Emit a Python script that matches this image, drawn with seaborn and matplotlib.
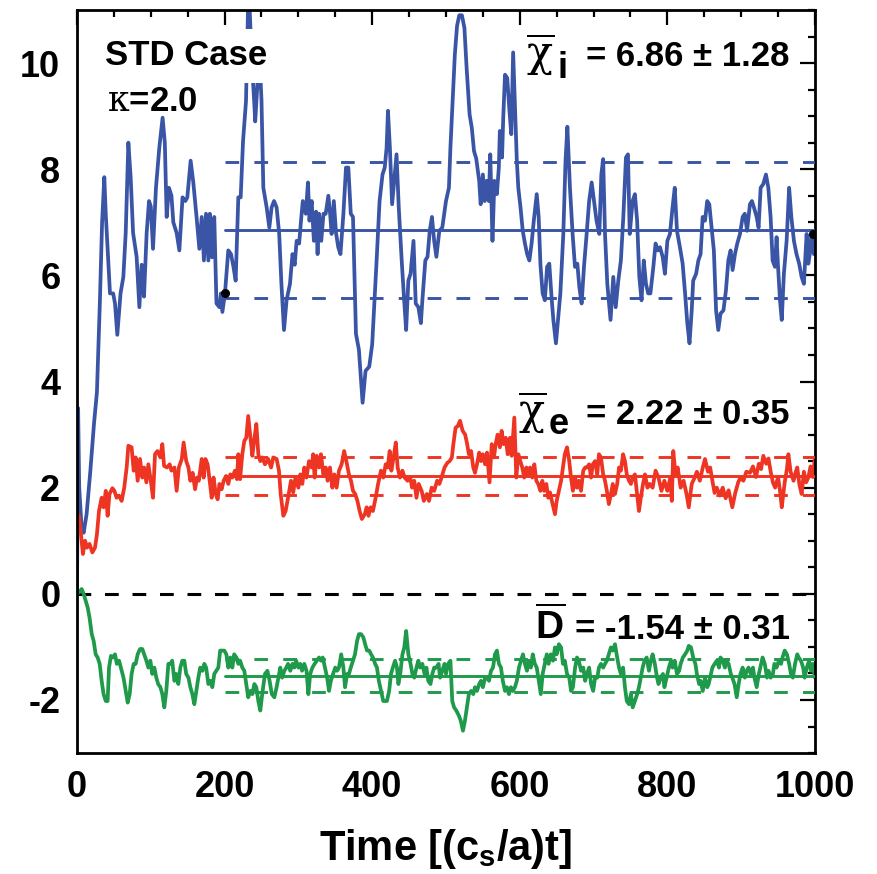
import numpy as np
import pandas as pd
import matplotlib
import matplotlib.pyplot as plt
import seaborn as sns
from matplotlib.ticker import MultipleLocator

# time traces (t, value)
t_chi_i = [0, 1.5, 3, 6, 9, 13, 18, 23, 27, 31, 34, 37, 39, 44.7, 49, 51.5, 54.6, 59, 62.8, 66,
           69.6, 72.7, 76, 80.8, 84.5, 87.6, 90.8, 94.4, 97.6, 100, 103, 107, 111.5, 116, 119, 121.5,
           124.6, 128, 130.5, 135, 138.7, 143, 146.8, 149.5, 154, 157.6, 162, 165.8, 169, 172, 174.8,
           178, 180, 183, 186, 189, 193, 195, 197, 200.5, 205, 208.7, 212, 215, 218.6, 221.8, 225, 229,
           232.5, 237, 240, 241.5, 244, 247, 250, 252.5, 257, 260.6, 263.7, 267, 270.5, 274, 277, 280.5,
           284, 288.6, 292, 295, 297.6, 301, 304, 306, 310, 313, 315, 318, 321, 324, 326, 328, 331, 334,
           337, 340.6, 343, 345, 348, 351, 354, 357, 361, 364.5, 367.7, 371, 374, 378, 382, 387, 391,
           396, 400, 406, 410, 414, 417, 419.5, 421.4, 424, 427, 429, 433, 436, 440, 443, 446, 449, 452,
           456, 459, 462.6, 466, 468, 472, 475, 478, 481, 484, 487, 491, 495, 500, 504, 506, 509, 512,
           515, 518, 521.6, 525, 528, 532, 535, 538, 541, 545, 547, 550, 552.5, 555, 558, 560, 563,
           565.6, 569, 571.6, 573, 576, 577.6, 580, 583, 586, 588.5, 591, 594, 596, 598, 601, 604, 607,
           610, 613, 616, 619, 623, 625.6, 628, 631, 634, 637, 640, 643, 645.5, 649, 652, 655, 659, 662,
           664.5, 668, 671.6, 674.8, 678, 680.7, 683.8, 687, 690.6, 694, 697.4, 700.6, 704, 707.8, 710.5,
           713, 715.5, 718.6, 723, 726.7, 730, 733.5, 737, 740.3, 743.9, 746.6, 749, 752.9, 756, 759,
           762, 765, 768, 771, 774, 777, 781, 784, 787, 790, 793.6, 796.7, 800, 803.5, 807, 810, 813,
           817, 820.7, 824, 827, 830, 833, 835, 839, 842, 845, 847.8, 851, 854, 856.8, 860, 863, 866,
           869, 872, 876, 879.4, 882.6, 885.7, 888.4, 891.6, 894.7, 898.4, 902, 904.9, 908, 911.9, 914.6,
           917.3, 921, 923.6, 926.4, 930, 933.6, 936.8, 939.9, 942.6, 945.8, 948, 950, 952.6, 955, 957.9,
           961.6, 965, 968, 971.5, 975, 978.6, 981.9, 985, 988.7, 991, 993, 995.5, 998.5, 1000]
chi_i = [0.0, 3.5, 2.0, 1.3, 1.15, 1.5, 2.3, 3.2, 3.8, 5.5, 7.0, 7.85, 7.15, 5.66, 5.66, 5.47, 4.88, 5.66,
         5.97, 6.8, 8.5, 7.85, 6.8, 6.35, 5.4, 6.2, 5.6, 6.8, 7.4, 7.3, 6.5, 7.65, 8.4, 8.97, 8.5, 7.1,
         7.65, 7.5, 7.0, 6.8, 6.47, 7.47, 7.4, 7.47, 8.16, 7.75, 7.1, 6.5, 7.1, 6.28, 7.16, 6.28, 7.16,
         6.34, 7.1, 5.47, 5.4, 5.66, 5.31, 5.66, 6.47, 6.4, 6.16, 5.9, 7.47, 7.47, 8.53, 9.28, 11.5, 10.0,
         9.3, 8.9, 9.5, 10.2, 9.3, 7.65, 7.28, 6.9, 7.28, 7.4, 7.28, 6.78, 5.84, 4.97, 5.53, 5.84, 6.4,
         6.2, 6.65, 6.6, 7.1, 7.4, 7.16, 7.75, 7.03, 7.4, 6.65, 7.2, 6.4, 7.16, 6.65, 7.16, 7.16, 7.5,
         7.16, 6.78, 7.4, 6.8, 6.53, 6.4, 7.16, 8.03, 8.03, 7.16, 7.1, 4.9, 4.6, 3.6, 4.2, 4.28, 4.7,
         6.28, 7.4, 7.9, 8.03, 8.4, 9.1, 8.4, 7.34, 7.65, 8.28, 7.28, 6.28, 5.6, 4.97, 5.9, 6.03, 6.65,
         5.47, 5.4, 5.1, 5.53, 6.28, 6.35, 6.84, 7.1, 6.65, 6.35, 6.84, 6.9, 7.4, 7.65, 8.4, 9.28, 10.16,
         10.7, 10.9, 10.9, 10.66, 9.9, 9.03, 8.78, 8.34, 8.2, 7.78, 7.34, 7.9, 7.4, 7.78, 7.4, 8.28, 6.65,
         7.78, 7.53, 8.03, 8.72, 8.22, 8.97, 9.78, 9.72, 9.1, 8.66, 10.2, 8.97, 8.16, 7.65, 7.28, 6.84,
         6.6, 6.4, 6.28, 6.6, 7.03, 7.53, 7.1, 6.2, 5.66, 5.53, 6.16, 6.22, 5.6, 5.16, 4.72, 5.2, 5.66,
         6.78, 8.16, 8.8, 7.65, 6.78, 6.16, 6.22, 5.78, 5.47, 6.16, 6.78, 7.4, 7.75, 7.4, 7.03, 6.78, 7.9,
         8.19, 6.78, 5.84, 5.16, 5.97, 5.4, 5.9, 6.28, 7.1, 8.22, 8.28, 6.78, 7.4, 7.53, 7.03, 5.97, 5.53,
         6.28, 5.84, 5.66, 5.66, 6.16, 6.6, 6.47, 6.53, 6.35, 6.03, 6.65, 6.78, 7.28, 7.65, 6.84, 6.53,
         6.22, 5.66, 5.1, 4.72, 5.34, 5.9, 6.03, 6.28, 6.4, 7.1, 7.03, 7.4, 7.34, 6.9, 6.47, 5.34, 4.97,
         5.28, 5.34, 5.72, 6.28, 6.47, 6.1, 6.4, 6.6, 6.78, 7.1, 7.16, 6.84, 7.34, 7.4, 7.28, 7.1, 6.9,
         7.65, 7.72, 7.9, 7.65, 7.1, 6.28, 6.16, 6.72, 6.16, 5.53, 5.16, 6.03, 6.65, 7.65, 7.1, 6.65, 6.4,
         6.22, 5.97, 5.84, 6.78, 6.22, 6.4, 6.84, 6.4, 6.7]

t_chi_e = [0, 2.7, 5.4, 8, 11, 13.5, 17, 20.8, 24.4, 27, 29.8, 33.4, 36, 39, 41.5, 44, 48, 50.6, 53.7,
           57, 60.5, 64, 67.3, 69.6, 74, 76.8, 79.5, 82.2, 85.4, 88.5, 91, 94, 96.7, 100, 103, 105.7,
           109, 113, 115.6, 118, 122, 125.6, 128, 132, 135, 138, 142, 144.5, 148, 151, 153.6, 156.7, 160,
           162.6, 165, 169, 171.6, 174, 177, 179.8, 182.5, 185, 188, 190.6, 193, 196, 198.7, 202, 205,
           207.8, 210.5, 214, 216.8, 218.6, 221, 224, 226.7, 229.4, 232, 235, 237.6, 240, 243, 245.7,
           248.4, 251, 254.7, 259, 263, 266, 270.5, 273.7, 276, 279.6, 282.7, 286, 290, 293, 296, 300,
           302.6, 305.3, 308, 311, 314.4, 318, 320, 322, 324.7, 328, 330.6, 333.8, 337, 339.6, 342.8,
           346, 348.7, 351.8, 355, 358.6, 362, 365, 368.5, 371.3, 374, 377, 380, 383, 386, 390, 392.5,
           395, 398, 401, 404.7, 408, 411.9, 415, 418.3, 421, 423.7, 426, 429, 432, 434.5, 437.6, 441,
           444, 448, 451.7, 454, 457, 460, 463, 467, 470, 474, 477, 480.6, 484, 488, 491, 494, 498, 502,
           505, 508, 510, 513, 516, 519, 522.6, 526, 528.7, 531, 534, 537, 539.3, 542, 545, 547.4, 550,
           553, 555.6, 559, 562, 565, 567.3, 570, 573, 575.4, 578, 581, 583.6, 586.7, 589, 592.6, 595.3,
           598, 600.7, 603.4, 606, 609, 611, 614, 617, 619.7, 622.4, 625, 628, 630.6, 633, 636, 638.6,
           641, 643.5, 647.7, 650, 653, 656, 658.5, 661, 664, 667, 669.4, 672, 675, 677.5, 680, 683, 686,
           688.6, 691, 694, 696.6, 699, 702, 705, 707.3, 710, 713, 715.5, 718, 720.7, 723.5, 726, 729,
           732, 734.5, 737, 740, 742.5, 745, 748, 750.6, 753, 756, 759, 761.5, 764, 767, 769.6, 773, 776,
           780, 784, 788, 792, 796, 800, 804, 806, 808, 811, 814, 818, 822, 826, 829, 833, 837, 840, 844,
           848, 851, 855, 858, 861, 864, 867, 871, 875, 879, 883, 888, 892, 896, 899, 903, 907, 912, 916,
           920, 924, 927, 930, 934, 937, 940, 943, 946, 950, 953, 955, 959, 962, 964, 967, 971, 974, 976,
           979, 982, 985, 988, 991, 994, 997, 1000]
chi_e = [1.47, 1.47, 1.12, 0.75, 1.0, 0.87, 0.94, 0.78, 0.87, 1.12, 1.56, 1.81, 1.63, 1.94, 1.47, 1.88,
         1.99, 1.94, 1.81, 1.85, 1.75, 2.0, 2.38, 2.79, 2.76, 2.32, 2.57, 2.13, 2.54, 2.19, 2.38, 2.1,
         2.44, 2.13, 1.81, 2.63, 2.69, 2.57, 2.82, 2.41, 2.38, 2.44, 2.32, 2.38, 1.94, 2.38, 2.54, 2.85,
         2.5, 2.38, 2.13, 2.28, 1.97, 2.19, 2.13, 2.54, 2.19, 2.54, 2.44, 2.13, 1.81, 2.19, 1.88, 1.78,
         2.07, 1.97, 2.13, 2.22, 2.07, 2.25, 2.19, 2.32, 2.16, 2.63, 2.16, 2.63, 2.88, 2.94, 3.35, 2.94,
         2.6, 2.88, 3.2, 2.63, 2.5, 2.57, 2.44, 2.54, 2.38, 2.57, 2.54, 2.32, 1.88, 1.47, 1.56, 1.81,
         2.13, 1.91, 2.19, 2.0, 2.25, 2.07, 2.38, 2.19, 2.5, 2.38, 2.63, 2.19, 2.6, 2.38, 2.63, 2.25,
         2.38, 2.13, 2.38, 2.0, 2.25, 2.0, 2.32, 2.44, 2.69, 2.5, 2.25, 2.13, 1.94, 1.88, 1.75, 1.56,
         1.41, 1.5, 1.63, 1.47, 1.63, 1.56, 1.81, 2.07, 2.32, 2.19, 2.44, 2.38, 2.69, 2.32, 2.57, 2.85,
         2.38, 2.19, 2.32, 2.19, 2.13, 2.19, 2.0, 2.13, 1.81, 2.07, 1.94, 1.75, 1.88, 1.75, 2.0, 1.94,
         2.13, 2.07, 2.19, 2.38, 2.47, 2.5, 2.57, 2.82, 3.13, 3.16, 3.26, 3.07, 3.0, 2.82, 2.63, 2.69,
         2.38, 2.28, 2.44, 2.66, 2.5, 2.63, 2.44, 2.66, 2.1, 2.82, 2.57, 2.82, 3.0, 2.76, 3.07, 2.82,
         2.94, 2.63, 2.94, 2.6, 3.32, 2.19, 2.63, 2.5, 2.38, 2.19, 2.38, 2.25, 2.38, 2.19, 2.44, 2.13,
         2.07, 1.94, 2.13, 1.94, 2.07, 1.81, 1.91, 1.75, 1.5, 1.75, 1.94, 2.13, 2.38, 2.63, 2.76, 2.5,
         2.19, 1.94, 2.19, 2.0, 2.13, 1.94, 2.32, 2.38, 2.38, 2.44, 2.19, 2.44, 2.5, 2.25, 2.63, 2.57,
         2.25, 2.13, 1.94, 1.69, 1.88, 2.07, 1.88, 2.07, 2.38, 2.32, 2.63, 2.5, 2.25, 2.13, 2.07, 2.19,
         2.25, 1.88, 1.56, 1.81, 2.07, 2.25, 2.0, 2.07, 2.0, 2.32, 2.19, 1.94, 2.13, 1.94, 2.19, 1.75,
         2.69, 2.25, 2.38, 2.0, 2.13, 1.88, 1.63, 2.07, 2.19, 2.3, 2.13, 2.38, 2.54, 2.3, 2.38, 2.13,
         1.9, 2.0, 1.85, 2.0, 1.8, 1.95, 1.63, 1.9, 2.1, 2.19, 2.13, 2.3, 2.28, 2.4, 2.2, 2.45, 2.35,
         2.6, 2.45, 2.55, 2.3, 2.1, 2.0, 2.2, 1.9, 1.63, 2.1, 2.35, 2.63, 2.3, 2.13, 2.3, 2.38, 2.05,
         1.88, 2.3, 2.1, 2.19, 2.4, 2.2, 2.57]

t_d = [0, 3, 6.3, 9, 11.7, 14.5, 17, 20, 22.6, 25.3, 28, 30.7, 33.4, 36, 39, 41.5, 43.4, 46, 48.8, 51.5,
       54, 57, 60.5, 63, 66, 68.7, 71.4, 74, 76.8, 79.5, 82.2, 85.4, 88.5, 91, 94, 96.7, 99.4, 102,
       104.8, 107.5, 110, 113, 115.6, 118.3, 121, 123.8, 126.5, 129, 132, 134.6, 137.3, 140, 142.7,
       145.4, 148, 151, 153.6, 156.3, 159, 161.7, 164.4, 167, 170, 172.5, 175, 178, 180.7, 183.4, 186,
       188.8, 191.5, 194, 197, 199.6, 202.4, 205, 207.8, 210.5, 213, 216, 218.6, 221, 224, 226.7, 229.4,
       232, 235, 237.6, 240.3, 243, 245.7, 248.4, 251, 254.7, 258, 261, 264, 267.4, 270.5, 273, 275.5,
       278, 281, 283.6, 286, 289, 292, 294.5, 297, 300, 302.6, 305, 308, 311, 313.5, 316, 319, 322, 325,
       328, 330.6, 333, 336, 339, 341.5, 344, 347, 350, 352.5, 355, 358, 361, 363.2, 366, 368.5, 371,
       374, 376.7, 379.5, 382, 385, 388, 390.5, 393, 396, 398.5, 401, 404, 406.5, 409, 412, 415, 417.3,
       420, 423, 425.5, 428, 431, 433.6, 435.5, 438, 441, 443.5, 446, 449, 452, 454.5, 457, 460, 462.5,
       465, 468, 471, 473.5, 476, 479, 481.5, 484, 487, 490, 492, 495, 498, 500, 503, 506, 508.5, 511,
       514, 517.6, 520, 523, 525.7, 528.4, 531, 534, 537, 539.3, 542, 545, 547.4, 550, 553, 555.6,
       558.3, 561, 563.7, 566.4, 569, 571.8, 574.5, 577, 580, 582.6, 585.3, 588, 590.7, 593.4, 596,
       598.9, 601.6, 604.3, 607, 609.7, 612, 615, 617.6, 620.4, 623, 625.7, 628.5, 631, 633.8, 636.6,
       639, 642, 645, 647.7, 650, 653, 656, 658.5, 661, 664, 667, 669.5, 672, 675, 677.5, 680, 683, 686,
       688.6, 691, 694, 696.6, 699.5, 702, 705, 707.3, 710, 713, 715.5, 718, 720.7, 723.5, 726, 729,
       732, 734.5, 737, 740, 742.5, 745, 748, 750.6, 753, 756, 759, 761.5, 766.5, 769, 772, 775, 777.6,
       780, 783, 786, 788, 791, 794, 796, 799, 802, 805, 807, 810, 813, 816, 818, 821, 824, 827, 829,
       832, 835, 838, 840, 843, 845, 848, 851, 854, 856, 859, 861, 864, 867, 870, 872, 875, 878, 880,
       883, 886, 888, 891, 894, 896.6, 899, 902, 905, 907.5, 910, 913, 916, 918, 921, 924, 927, 929,
       932, 935, 937, 940, 943, 945, 948, 951, 954, 956, 959, 962, 965, 967.5, 970, 973, 976, 978, 981,
       984, 986, 989, 992, 994.6, 997, 1000]
d_val = [0.0, 0.03, 0.09, 0.0, -0.13, -0.26, -0.45, -0.76, -0.89, -1.14, -1.2, -1.32, -1.64, -1.89,
         -2.02, -2.02, -1.39, -1.17, -1.2, -1.14, -1.32, -1.26, -1.45, -1.58, -1.83, -2.05, -1.89, -1.51,
         -1.32, -1.32, -1.14, -1.04, -1.04, -1.14, -1.26, -1.39, -1.26, -1.51, -1.39, -1.58, -1.7, -1.76,
         -1.89, -2.14, -1.83, -1.32, -1.32, -1.26, -1.64, -1.51, -1.7, -1.39, -1.26, -1.26, -1.51, -1.58,
         -1.76, -1.89, -2.08, -1.83, -1.58, -1.39, -1.45, -1.32, -1.39, -1.7, -1.64, -1.76, -1.51, -1.45,
         -1.39, -1.07, -1.07, -1.07, -1.14, -1.39, -1.2, -1.39, -1.14, -1.2, -1.32, -1.26, -1.39, -1.45,
         -1.7, -1.95, -1.83, -1.89, -1.7, -1.76, -2.02, -2.2, -1.89, -1.51, -1.45, -1.64, -1.89, -1.95,
         -1.76, -1.58, -1.39, -1.58, -1.45, -1.39, -1.32, -1.45, -1.32, -1.39, -1.26, -1.39, -1.32, -1.45,
         -1.32, -1.45, -1.89, -1.51, -1.39, -1.32, -1.26, -1.2, -1.26, -1.2, -1.39, -1.58, -1.83, -1.64,
         -1.51, -1.39, -1.45, -1.39, -1.14, -1.39, -1.76, -1.51, -1.51, -1.39, -1.26, -1.14, -0.89, -0.76,
         -0.76, -0.82, -0.95, -1.07, -1.07, -1.14, -1.2, -1.32, -1.39, -1.64, -1.83, -2.02, -2.02, -2.02,
         -1.83, -1.51, -1.39, -1.26, -1.39, -1.7, -1.51, -1.14, -1.01, -0.7, -1.14, -1.32, -1.51, -1.58,
         -1.39, -1.26, -1.39, -1.32, -1.51, -1.39, -1.64, -1.7, -1.51, -1.39, -1.39, -1.32, -1.58, -1.45,
         -1.32, -1.51, -1.32, -1.26, -2.02, -2.14, -2.2, -2.3, -2.39, -2.58, -2.39, -2.14, -1.89, -1.83,
         -1.89, -1.76, -1.83, -1.7, -1.64, -1.76, -1.58, -1.58, -1.64, -1.45, -1.39, -1.14, -1.07, -1.32,
         -1.39, -1.64, -1.83, -1.76, -1.89, -1.76, -1.83, -1.76, -1.64, -1.39, -1.26, -1.14, -1.32, -1.45,
         -1.26, -1.39, -1.14, -1.32, -1.39, -1.64, -1.89, -1.51, -1.32, -1.14, -1.32, -1.14, -1.26, -1.01,
         -1.14, -0.95, -1.01, -1.32, -1.26, -1.51, -1.58, -1.83, -1.76, -1.39, -1.2, -1.26, -1.45, -1.39,
         -1.64, -1.51, -1.39, -1.7, -1.83, -1.58, -1.58, -1.39, -1.32, -1.39, -1.32, -1.26, -1.14, -1.01,
         -1.07, -0.95, -1.2, -1.39, -1.51, -1.39, -1.76, -2.02, -2.08, -1.89, -2.14, -2.02, -1.89, -1.76,
         -1.39, -1.26, -1.2, -1.45, -1.26, -1.14, -1.32, -1.58, -1.7, -1.58, -1.51, -1.76, -1.58, -1.39,
         -1.26, -1.39, -1.26, -1.51, -1.45, -1.32, -1.2, -1.14, -1.07, -0.98, -1.01, -1.2, -1.32, -1.51,
         -1.7, -1.64, -1.83, -1.58, -1.76, -1.7, -1.51, -1.39, -1.32, -1.26, -1.39, -1.2, -1.26, -1.39,
         -1.26, -1.32, -1.51, -1.58, -1.7, -1.95, -1.7, -1.51, -1.39, -1.58, -1.45, -1.39, -1.51, -1.39,
         -1.58, -1.76, -1.51, -1.32, -1.2, -1.32, -1.58, -1.45, -1.58, -1.51, -1.32, -1.39, -1.26, -1.32,
         -1.2, -1.07, -1.14, -1.32, -1.51, -1.58, -1.32, -1.14, -1.2, -1.26, -1.39, -1.58, -1.39, -1.26,
         -1.45, -1.32, -1.58]

# time averages over the window t = 200..1000
series_names = ['chi_i', 'chi_e', 'D']
mean_vals = [6.86, 2.22, -1.54]
std_vals = [1.28, 0.35, 0.31]
avg_start, avg_end = 200, 1000
# black dots marking the window ends on chi_i
dot_t = [200, 998]
dot_y = [5.66, 6.78]

colors = {'chi_i': '#3a55a6', 'chi_e': '#ee3524', 'D': '#1f9a4a'}

sns.set_theme(style='white')
plt.rcParams['font.family'] = ['Liberation Sans', 'DejaVu Sans']
plt.rcParams['font.weight'] = 'bold'
plt.rcParams['axes.unicode_minus'] = False
for k in ['text.color', 'axes.labelcolor', 'xtick.color', 'ytick.color', 'axes.edgecolor']:
    plt.rcParams[k] = 'black'
plt.rcParams['mathtext.fontset'] = 'custom'
plt.rcParams['mathtext.rm'] = 'DejaVu Serif:weight=normal'
plt.rcParams['mathtext.it'] = 'DejaVu Serif:weight=normal'
plt.rcParams['mathtext.bf'] = 'Liberation Sans:bold'

df = pd.concat([
    pd.DataFrame({'t': t_chi_i, 'value': chi_i, 'series': 'chi_i'}),
    pd.DataFrame({'t': t_chi_e, 'value': chi_e, 'series': 'chi_e'}),
    pd.DataFrame({'t': t_d, 'value': d_val, 'series': 'D'}),
], ignore_index=True)

fig = plt.figure(figsize=(8.78, 8.74), dpi=100)
ax = fig.add_axes([0.0877, 0.1384, 0.8405, 0.8502])

ax.axhline(0, color='black', lw=2.2, ls=(0, (4.5, 4.5)), zorder=1)

sns.lineplot(data=df, x='t', y='value', hue='series', palette=colors,
             estimator=None, sort=False, lw=2.7, legend=False, ax=ax, zorder=2)

for name, m, s in zip(series_names, mean_vals, std_vals):
    c = colors[name]
    ax.plot([avg_start, avg_end], [m, m], color=c, lw=2.1, zorder=3)
    ax.plot([avg_start, avg_end], [m + s, m + s], color=c, lw=2.1, ls=(0, (4.7, 5.2)), zorder=3)
    ax.plot([avg_start, avg_end], [m - s, m - s], color=c, lw=2.1, ls=(0, (4.7, 5.2)), zorder=3)

ax.plot(dot_t, dot_y, 'o', color='black', ms=5.5, zorder=4)

ax.set_xlim(0, 1000)
ax.set_ylim(-3, 11)
ax.xaxis.set_major_locator(MultipleLocator(200))
ax.xaxis.set_minor_locator(MultipleLocator(50))
ax.set_yticks([-2, 0, 2, 4, 6, 8, 10])
ax.yaxis.set_minor_locator(MultipleLocator(0.5))
ax.tick_params(which='both', direction='in', top=True, right=True, color='black', width=1.6)
ax.tick_params(which='major', length=11, labelsize=26, pad=12)
ax.tick_params(which='minor', length=5)
for sp in ax.spines.values():
    sp.set_color('black')
    sp.set_linewidth(2.0)

ax.set_xlabel(r'Time [(c$_{\mathbf{s}}$/a)t]', fontsize=30, fontweight='bold', labelpad=16)
ax.set_ylabel('')

# text in the upper left corner
ax.text(38, 10.45, 'STD Case', fontsize=25, fontweight='bold', ha='left', va='top',
        bbox=dict(boxstyle='square,pad=0.3', fc='white', ec='none'), zorder=5)
ax.text(40, 9.28, r'$\kappa$=2.0', fontsize=25, fontweight='bold', ha='left', va='center', zorder=5)

# average labels: overlined symbol, subscript, value
sym_x = [608, 598, 620]
sub_x = [651, 639, None]
subs = ['i', 'e', None]
base_y = [9.94, 3.2, -0.85]
sub_y = [9.72, 3.01, None]
symbols = [r'$\overline{\chi}$', r'$\overline{\chi}$', r'$\overline{\mathbf{D}}$']
sym_size = [31, 31, 28]
for sx, bx, sb, by, sy, sym, fs, m, s in zip(sym_x, sub_x, subs, base_y, sub_y, symbols,
                                             sym_size, mean_vals, std_vals):
    ax.text(sx, by, sym, fontsize=fs, ha='left', va='baseline', zorder=5)
    if sb is not None:
        ax.text(bx, sy, sb, fontsize=26, fontweight='bold', ha='left', va='baseline', zorder=5)
    ax.text(966, by, f'= {m:.2f} ± {s:.2f}', fontsize=25, fontweight='bold',
            ha='right', va='baseline', zorder=5)

fig.savefig('out.png', dpi=100)
